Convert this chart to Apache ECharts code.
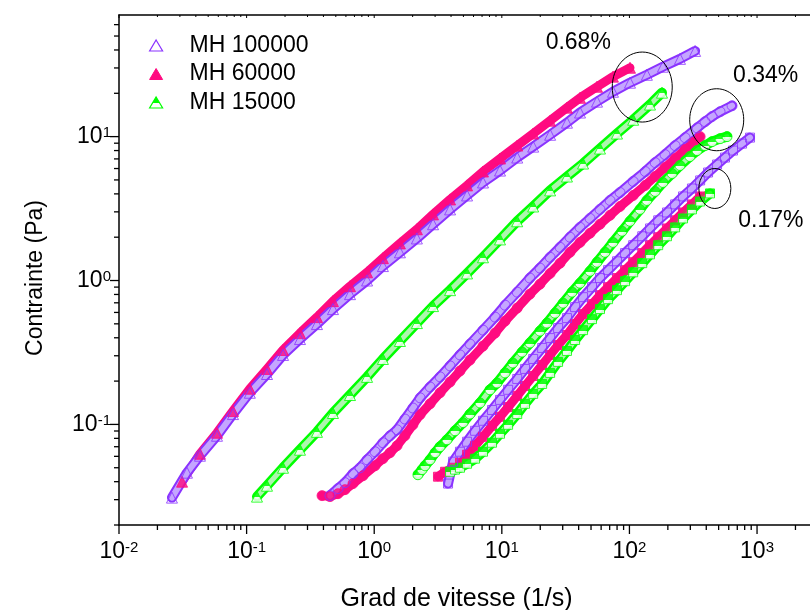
<!DOCTYPE html>
<html><head><meta charset="utf-8">
<script src="https://cdn.jsdelivr.net/npm/echarts@6/dist/echarts.min.js"></script>
<style>html,body{margin:0;padding:0;background:#fff}#c{width:810px;height:610px}</style>
</head><body><div id="c"></div>
<script>
// ---------- data ----------
const seriesNames = ['MH 100000', 'MH 60000', 'MH 15000'];
const annotLabels = ['0.68%', '0.34%', '0.17%'];
const annotCenters = [[126, 22.1], [483, 13.1], [467, 4.36]];

const xMajorTicks = [0.01, 0.1, 1, 10, 100, 1000];
const yMajorTicks = [0.1, 1, 10];
const xMinorTicks = [0.02,0.03,0.04,0.05,0.06,0.07,0.08,0.09,
  0.2,0.3,0.4,0.5,0.6,0.7,0.8,0.9, 2,3,4,5,6,7,8,9,
  20,30,40,50,60,70,80,90, 200,300,400,500,600,700,800,900, 2000];
const yMinorTicks = [0.02,0.03,0.04,0.05,0.06,0.07,0.08,0.09,
  0.2,0.3,0.4,0.5,0.6,0.7,0.8,0.9, 2,3,4,5,6,7,8,9, 20,30,40,50,60];

// 0.68 % (triangles)
const tri100kX = [0.0260,0.0341,0.0431,0.0586,0.0782,0.106,0.1445,0.193,0.262,0.356,0.475,0.646,0.879,1.17,1.59,2.16,2.89,3.93,5.34,7.12,9.68,13.2,17.6,23.9,32.4,41.0,55.7,74.3,101,137,183,249,327];
const tri100kY = [0.0310,0.0462,0.0606,0.0834,0.118,0.166,0.224,0.304,0.392,0.498,0.633,0.804,1.00,1.26,1.57,1.96,2.46,3.12,3.90,4.80,5.81,7.15,8.52,10.3,12.5,14.7,17.5,20.5,23.7,26.9,30.6,34.7,39.4];
const tri60kX = [0.0312,0.0431,0.0586,0.0782,0.106,0.1445,0.193,0.262,0.356,0.475,0.646,0.879,1.17,1.59,2.16,2.89,3.93,5.34,7.12,9.68,13.2,17.6,23.9,32.4,41.0,55.7,74.3,101];
const tri60kY = [0.0400,0.0625,0.0875,0.124,0.177,0.243,0.329,0.431,0.557,0.719,0.913,1.14,1.43,1.81,2.27,2.88,3.66,4.58,5.72,7.04,8.66,10.5,12.9,15.9,18.6,22.2,26.1,30.1];
const tri15kX = [0.1206,0.1445,0.193,0.262,0.356,0.475,0.646,0.879,1.17,1.59,2.16,2.89,3.93,5.34,7.12,9.68,13.2,17.6,23.9,32.4,43.3,58.8,79.9,107,145,180];
const tri15kY = [0.0315,0.0375,0.0500,0.0667,0.0888,0.120,0.160,0.214,0.285,0.380,0.506,0.664,0.857,1.12,1.45,1.93,2.58,3.27,4.23,5.28,6.50,8.26,10.5,13.1,16.7,20.2];

// 0.34 % (circles)
const cir100kX = [0.450,0.520,0.590,0.682,0.774,0.879,1.015,1.17,1.33,1.51,1.74,2.01,2.29,2.74,3.28,3.93,4.70,5.63,7.12,8.85,10.6,13.2,16.6,19.9,23.9,28.6,34.2,41.0,49.1,58.8,70.5,84.4,107,133,159,190,228,273,339,391,444,513,637];
const cir100kY = [0.0320,0.0358,0.0394,0.0455,0.0500,0.0568,0.0646,0.0746,0.0834,0.0918,0.109,0.130,0.153,0.182,0.214,0.255,0.304,0.362,0.452,0.557,0.674,0.830,1.04,1.22,1.45,1.70,2.00,2.34,2.70,3.12,3.60,4.09,4.88,5.72,6.60,7.50,8.66,9.84,11.5,12.7,13.8,14.9,16.4];
const cir60kX = [0.390,0.450,0.520,0.590,0.682,0.817,1.015,1.17,1.33,1.51,1.74,2.01,2.29,2.74,3.28,3.93,4.70,5.63,7.12,8.85,10.6,13.2,16.6,19.9,23.9,28.6,34.2,41.0,49.1,58.8,70.5,84.4,107,133,159,190,228,273,315,358];
const cir60kY = [0.0320,0.0315,0.0330,0.0352,0.0388,0.0440,0.0516,0.0578,0.0636,0.0711,0.0834,0.0994,0.117,0.139,0.166,0.197,0.235,0.280,0.350,0.431,0.522,0.643,0.804,0.943,1.12,1.32,1.57,1.84,2.13,2.46,2.84,3.27,3.90,4.58,5.28,6.10,7.04,8.13,9.09,10.0];
const cir15kX = [2.20,2.37,2.50,2.74,3.00,3.28,3.72,4.30,4.97,5.63,6.75,8.08,9.17,10.6,12.2,14.4,16.6,19.9,22.6,26.1,30.2,35.5,41.0,49.1,55.7,64.4,74.3,87.5,101,121,137,159,183,216,249,298,339,391,444,513,582];
const cir15kY = [0.0447,0.0485,0.0516,0.0568,0.0636,0.0700,0.0782,0.0903,0.103,0.118,0.141,0.174,0.194,0.228,0.267,0.318,0.368,0.445,0.506,0.593,0.696,0.830,0.958,1.16,1.34,1.57,1.84,2.20,2.58,3.12,3.60,4.16,4.80,5.54,6.30,7.27,8.00,8.66,9.23,9.68,10.0];

// 0.17 % (squares)
const sq100kX = [3.79,4.15,4.70,5.34,6.17,7.12,8.38,9.68,11.2,13.2,15.2,17.6,20.7,23.9,27.6,32.4,37.5,43.3,50.9,58.8,68.0,79.9,92.4,107,126,145,168,197,228,263,309,358,413,486,561,648,763,881];
const sq100kY = [0.0388,0.0551,0.0646,0.0758,0.0903,0.106,0.126,0.148,0.174,0.207,0.243,0.285,0.340,0.398,0.467,0.548,0.653,0.766,0.899,1.04,1.18,1.36,1.55,1.76,2.03,2.30,2.62,2.97,3.38,3.84,4.36,4.96,5.63,6.40,7.15,8.00,8.94,9.84];
const sq60kX = [3.16,3.59,4.15,4.70,5.34,6.17,7.12,8.38,9.68,11.2,13.2,15.2,17.6,20.7,23.9,27.6,32.4,37.5,43.3,50.9,58.8,68.0,79.9,92.4,107,126,145,168,197,228,263,309,358];
const sq60kY = [0.0433,0.0469,0.0500,0.0542,0.0616,0.0711,0.0820,0.0978,0.113,0.132,0.158,0.185,0.217,0.259,0.304,0.356,0.418,0.498,0.584,0.685,0.791,0.899,1.04,1.18,1.34,1.55,1.76,2.00,2.30,2.62,2.97,3.38,3.84];
const sq15kX = [3.93,4.30,4.70,5.34,6.17,7.12,8.38,9.68,11.2,13.2,15.2,17.6,20.7,23.9,27.6,32.4,37.5,43.3,50.9,58.8,68.0,79.9,92.4,107,126,145,168,197,228,263,309,358,428];
const sq15kY = [0.0469,0.0485,0.0500,0.0533,0.0578,0.0646,0.0746,0.0861,0.0994,0.118,0.139,0.163,0.191,0.228,0.272,0.324,0.386,0.452,0.539,0.633,0.742,0.857,0.989,1.14,1.32,1.52,1.76,2.03,2.34,2.70,3.12,3.54,4.03];

// ---------- styling ----------
const X_MIN = 0.01, X_MAX = 2600, Y_MIN = 0.02, Y_MAX = 70;
const PURPLE = '#8a33ff', PINK = '#ff0a80', GREEN = '#00ff00';
const FONT = '"Liberation Sans", Arial, sans-serif';
const halfGreen = {type:'linear', x:0, y:0, x2:0, y2:1, colorStops:[
  {offset:0,color:GREEN},{offset:0.55,color:GREEN},{offset:0.55,color:'#ffffff'},{offset:1,color:'#ffffff'}]};
const groupStyle = {
  'MH 100000': {stroke: PURPLE, fill: 'rgba(255,255,255,0)', tube: PURPLE, inner: '#c4a6ff', tubeW: 10, innerW: 6},
  'MH 60000':  {stroke: PINK, fill: PINK, tube: PINK, inner: null, tubeW: 9, innerW: 0},
  'MH 15000':  {stroke: GREEN, fill: halfGreen, tube: GREEN, inner: '#aef5ae', tubeW: 10, innerW: 5}
};
const shapeStyle = {triangle: 11, circle: 10, rect: 9};
const annotStyle = [{rx:30, ry:35, dx:-64, dy:-44}, {rx:27, ry:31, dx:49, dy:-44}, {rx:16, ry:20, dx:56, dy:32}];

const zip = (xs, ys) => xs.map((x, i) => [x, ys[i]]);
const sets = [
  {name:'MH 60000', shape:'triangle', data: zip(tri60kX, tri60kY)},
  {name:'MH 15000', shape:'triangle', data: zip(tri15kX, tri15kY)},
  {name:'MH 100000', shape:'triangle', data: zip(tri100kX, tri100kY)},
  {name:'MH 60000', shape:'circle', data: zip(cir60kX, cir60kY)},
  {name:'MH 15000', shape:'circle', data: zip(cir15kX, cir15kY)},
  {name:'MH 100000', shape:'circle', data: zip(cir100kX, cir100kY)},
  {name:'MH 60000', shape:'rect', data: zip(sq60kX, sq60kY)},
  {name:'MH 15000', shape:'rect', data: zip(sq15kX, sq15kY)},
  {name:'MH 100000', shape:'rect', data: zip(sq100kX, sq100kY)}
];

const series = [];
sets.forEach(s => {
  const g = groupStyle[s.name];
  series.push({type:'line', name:s.name, data:s.data, showSymbol:false, silent:true, z:2,
    lineStyle:{color:g.tube, width:g.tubeW, cap:'round', join:'round'}});
  if (g.inner) series.push({type:'line', name:s.name, data:s.data, showSymbol:false, silent:true, z:2,
    lineStyle:{color:g.inner, width:g.innerW, cap:'round', join:'round'}});
});
sets.forEach(s => {
  const g = groupStyle[s.name];
  series.push({type:'scatter', name:s.name, data:s.data, symbol:s.shape, symbolSize:shapeStyle[s.shape], z:3,
    itemStyle:{color:g.fill, borderColor:g.stroke, borderWidth:1}});
});

function xTickRender(len, topLen) {
  return (params, api) => {
    const b = api.coord([api.value(0), Y_MIN]);
    const t = api.coord([api.value(0), Y_MAX]);
    return {type:'group', children:[
      {type:'line', shape:{x1:b[0], y1:b[1], x2:b[0], y2:b[1]+len}, style:{stroke:'#000', lineWidth:1.3}},
      {type:'line', shape:{x1:t[0], y1:t[1], x2:t[0], y2:t[1]+topLen}, style:{stroke:'#000', lineWidth:1}}
    ]};
  };
}
function yTickRender(len) {
  return (params, api) => {
    const p = api.coord([X_MIN, api.value(1)]);
    return {type:'line', shape:{x1:p[0]-len, y1:p[1], x2:p[0], y2:p[1]}, style:{stroke:'#000', lineWidth:1.3}};
  };
}
series.push({type:'custom', name:'xMajor', silent:true, clip:false, z:5, data: xMajorTicks.map(v => [v, Y_MIN]), renderItem: xTickRender(9, 3)});
series.push({type:'custom', name:'xMinor', silent:true, clip:false, z:5, data: xMinorTicks.map(v => [v, Y_MIN]), renderItem: xTickRender(5, 2)});
series.push({type:'custom', name:'yMajor', silent:true, clip:false, z:5, data: yMajorTicks.map(v => [X_MIN, v]), renderItem: yTickRender(9)});
series.push({type:'custom', name:'yMinor', silent:true, clip:false, z:5, data: yMinorTicks.map(v => [X_MIN, v]), renderItem: yTickRender(5)});
series.push({type:'custom', name:'annot', silent:true, clip:false, z:6, data: annotCenters,
  renderItem: (params, api) => {
    const c = api.coord([api.value(0), api.value(1)]);
    const s = annotStyle[params.dataIndex];
    return {type:'group', children:[
      {type:'ellipse', shape:{cx:c[0], cy:c[1], rx:s.rx, ry:s.ry}, style:{fill:'none', stroke:'#000', lineWidth:1}},
      {type:'text', x:c[0]+s.dx, y:c[1]+s.dy, style:{text:annotLabels[params.dataIndex], fill:'#000',
        font:'23px ' + FONT, align:'center', verticalAlign:'middle'}}
    ]};
  }});

const powLabel = v => {
  const e = Math.log10(v);
  if (Math.abs(e - Math.round(e)) > 1e-6) return '';
  return '{b|10}{s|' + Math.round(e) + '}';
};
const labelRich = {b:{fontSize:23, fontFamily:FONT, color:'#000'}, s:{fontSize:15, fontFamily:FONT, color:'#000', verticalAlign:'top'}};

const chart = echarts.init(document.getElementById('c'), null, {renderer:'canvas'});
chart.setOption({
  animation:false,
  backgroundColor:'#fff',
  grid:{left:119, right:0, top:15, bottom:85, containLabel:false, outerBoundsMode:'none'},
  legend:{
    orient:'vertical', left:144, top:29, itemWidth:13, itemHeight:11, itemGap:5.5,
    textStyle:{fontSize:23, fontFamily:FONT, color:'#000', lineHeight:22, padding:[0,0,0,22]},
    data:[
      {name:'MH 100000', icon:'triangle', itemStyle:{color:'#fff', borderColor:PURPLE, borderWidth:1.2}},
      {name:'MH 60000', icon:'triangle', itemStyle:{color:PINK, borderColor:PINK, borderWidth:1}},
      {name:'MH 15000', icon:'triangle', itemStyle:{color:halfGreen, borderColor:GREEN, borderWidth:1.2}}
    ]
  },
  xAxis:[
    {type:'log', logBase:10, min:X_MIN, max:X_MAX, position:'bottom',
      name:'Grad de vitesse (1/s)', nameLocation:'middle', nameGap:62,
      nameTextStyle:{fontSize:25, fontFamily:FONT, color:'#000', padding:[0,16,0,0]},
      axisLine:{lineStyle:{color:'#000', width:1.5}}, axisTick:{show:false}, splitLine:{show:false},
      axisLabel:{margin:15, formatter:powLabel, rich:labelRich}},
    {type:'log', logBase:10, min:X_MIN, max:X_MAX, position:'top',
      axisLine:{lineStyle:{color:'#000', width:1.5}}, axisTick:{show:false}, axisLabel:{show:false}, splitLine:{show:false}}
  ],
  yAxis:{type:'log', logBase:10, min:Y_MIN, max:Y_MAX,
    name:'Contrainte (Pa)', nameLocation:'middle', nameGap:72, nameRotate:90,
    nameTextStyle:{fontSize:23, fontFamily:FONT, color:'#000', padding:[0,16,0,0]},
    axisLine:{lineStyle:{color:'#000', width:1.5}}, axisTick:{show:false}, splitLine:{show:false},
    axisLabel:{margin:8, formatter:powLabel, rich:labelRich}},
  series: series
});
</script></body></html>
